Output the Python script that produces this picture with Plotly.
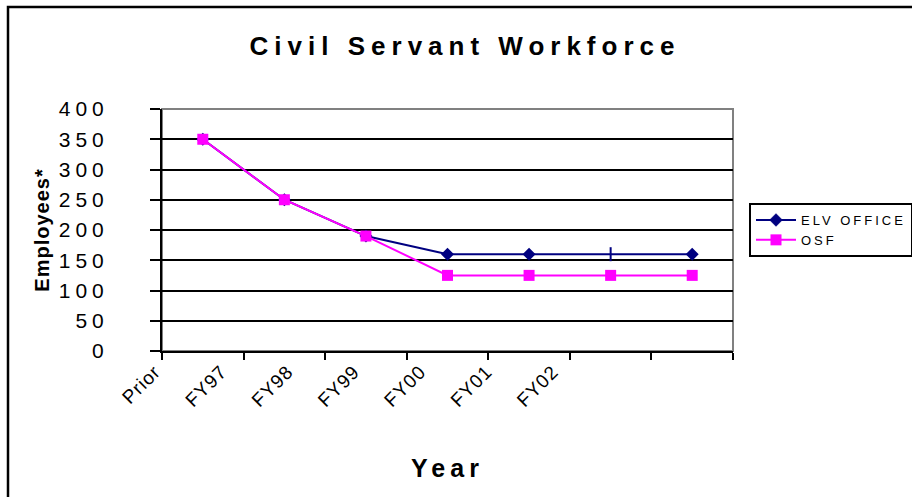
import plotly.graph_objects as go

# ---------------- data ----------------
CATEGORIES = ["Prior", "FY97", "FY98", "FY99", "FY00", "FY01", "FY02"]
ELV_OFFICE = [350, 250, 190, 160, 160, 160, 160]
OSF = [350, 250, 190, 125, 125, 125, 125]
Y_TICKS = [0, 50, 100, 150, 200, 250, 300, 350, 400]

# ---------------- layout constants ----------------
W, H = 912, 497
ML, MR, MT, MB = 162, 179, 109, 146
PW, PH = W - ML - MR, H - MT - MB
FONT = "Liberation Sans, Arial, sans-serif"
NAVY = "#000080"
MAGENTA = "#FF00FF"

# Excel rendered the rotated category labels on a tighter pitch than the categories
LABEL_START, LABEL_STEP, LABEL_SHIFT = -0.45, 0.813, -11


def px_x(p):
    return (p - ML) / PW


def px_y(p):
    return (H - MB - p) / PH


def spaced(text, px):
    return f'<span style="letter-spacing:{px}px">{text}</span>'


idx = list(range(len(CATEGORIES)))
elv_symbols = ["diamond"] * len(CATEGORIES)
elv_symbols[5] = "line-ns"
elv_line_w = [0] * len(CATEGORIES)
elv_line_w[5] = 2

fig = go.Figure()
fig.add_trace(go.Scatter(
    x=idx, y=ELV_OFFICE, name=spaced("ELV OFFICE", 3), mode="lines+markers",
    customdata=CATEGORIES,
    hovertemplate="%{customdata}: %{y}<extra>ELV OFFICE</extra>",
    line=dict(color=NAVY, width=2),
    marker=dict(symbol=elv_symbols, size=10, color=NAVY,
                line=dict(color=NAVY, width=elv_line_w)),
))
fig.add_trace(go.Scatter(
    x=idx, y=OSF, name=spaced("OSF", 3), mode="lines+markers",
    customdata=CATEGORIES,
    hovertemplate="%{customdata}: %{y}<extra>OSF</extra>",
    line=dict(color=MAGENTA, width=2),
    marker=dict(symbol="square", size=11, color=MAGENTA, line=dict(width=0)),
))

fig.update_layout(
    width=W, height=H,
    margin=dict(l=ML, r=MR, t=MT, b=MB, pad=0, autoexpand=False),
    paper_bgcolor="white", plot_bgcolor="white",
    font=dict(family=FONT, color="black"),
    title=dict(
        text=spaced("Civil Servant Workforce", 6),
        font=dict(size=26, weight="bold", color="black"),
        x=465 / W, xref="container", xanchor="center",
        y=1 - 46 / H, yref="container", yanchor="middle",
    ),
    showlegend=True,
    legend=dict(
        x=px_x(749), y=px_y(203), xanchor="left", yanchor="top",
        bgcolor="white", bordercolor="black", borderwidth=2,
        font=dict(size=13, color="black"), itemwidth=40,
        tracegroupgap=0,
    ),
    xaxis=dict(
        type="linear", range=[-0.5, len(CATEGORIES) - 0.5],
        tickmode="array",
        tickvals=[LABEL_START + LABEL_STEP * i for i in idx],
        ticktext=[spaced(c, 1) for c in CATEGORIES],
        ticklabelshift=LABEL_SHIFT,
        tickangle=-45, ticks="", tickfont=dict(size=19, color="black"),
        showgrid=False, zeroline=False,
        showline=True, linecolor="black", linewidth=2,
        minor=dict(tickmode="array",
                   tickvals=[i - 0.5 for i in range(len(CATEGORIES) + 1)],
                   ticks="outside", ticklen=7, tickwidth=2, tickcolor="black",
                   showgrid=False),
        title=dict(text=spaced("Year", 5),
                   font=dict(size=25, weight="bold", color="black"),
                   standoff=50),
        automargin=False, fixedrange=True,
    ),
    yaxis=dict(
        range=[0, 400], tickmode="array", tickvals=Y_TICKS,
        ticktext=[spaced(str(v), 5) for v in Y_TICKS],
        tickfont=dict(size=21, color="black"),
        ticks="outside", ticklen=10, tickwidth=2, tickcolor="black",
        ticklabelstandoff=37,
        showgrid=True, gridcolor="black", gridwidth=2,
        zeroline=False,
        showline=True, linecolor="black", linewidth=2,
        title=dict(text=spaced("Employees*", 1),
                   font=dict(size=20, weight="bold", color="black"),
                   standoff=4),
        automargin=False, fixedrange=True,
    ),
    shapes=[
        # plot-area border (grey top/right)
        dict(type="rect", xref="paper", yref="paper", x0=0, x1=1, y0=0, y1=1,
             line=dict(color="#808080", width=2), layer="between"),
        # outer chart frame (cropped at right/bottom)
        dict(type="rect", xref="paper", yref="paper",
             x0=px_x(8), x1=1.5, y0=-1, y1=px_y(7),
             line=dict(color="black", width=2.5), fillcolor="rgba(0,0,0,0)",
             layer="above"),
    ],
)

fig.write_html("out.html", config={"displayModeBar": False},
               post_script="document.body.style.margin='0px';")
